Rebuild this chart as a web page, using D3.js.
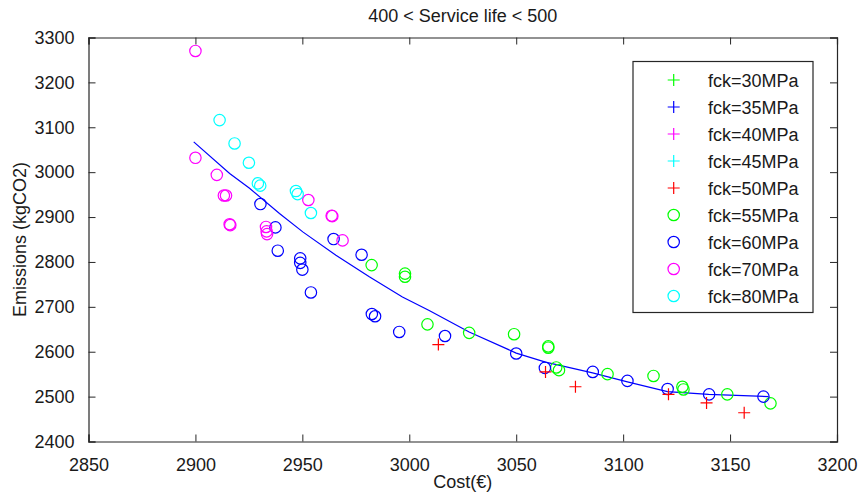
<!DOCTYPE html>
<html>
<head>
<meta charset="utf-8">
<script src="https://cdn.jsdelivr.net/npm/d3@7/dist/d3.min.js"></script>
<style>
  body { margin: 0; background: #fff; }
  text { font-family: Arial, "Liberation Sans", sans-serif; fill: #1a1a1a; }
</style>
</head>
<body>
<div id="chart"></div>
<script>
// Data
const legendLabels = ["fck=30MPa", "fck=35MPa", "fck=40MPa", "fck=45MPa", "fck=50MPa",
                      "fck=55MPa", "fck=60MPa", "fck=70MPa", "fck=80MPa"];
const legendColors = ["#00ff00", "#0000ff", "#ff00ff", "#00ffff", "#ff0000",
                      "#00ff00", "#0000ff", "#ff00ff", "#00ffff"];
const legendShapes = ["plus", "plus", "plus", "plus", "plus",
                      "circle", "circle", "circle", "circle"];

const xTicks = [2850, 2900, 2950, 3000, 3050, 3100, 3150, 3200];
const yTicks = [2400, 2500, 2600, 2700, 2800, 2900, 3000, 3100, 3200, 3300];

// [cost, emissions]
const fck50 = [[3013.6, 2616], [3063.7, 2555], [3077.7, 2522], [3121.2, 2505], [3139, 2486], [3156.6, 2464]];
const fck55 = [[2982.4, 2793], [2998, 2774], [2998, 2767], [3008.5, 2661], [3028, 2642], [3049, 2639],
               [3065, 2612], [3065, 2609], [3068.7, 2565], [3070, 2559], [3092.7, 2550], [3114.2, 2546],
               [3127.7, 2522], [3128.2, 2516], [3148.7, 2505], [3168.9, 2485]];
const fck60 = [[2930.4, 2929], [2937.4, 2877], [2938.5, 2825], [2949, 2808], [2949, 2798], [2950, 2783],
               [2954, 2732], [2964.6, 2851], [2977.7, 2816], [2982.5, 2684], [2984, 2679], [2995.3, 2644],
               [3016.7, 2635], [3050, 2596], [3063.4, 2564], [3085.8, 2555], [3102, 2535], [3120.8, 2517],
               [3140.2, 2505], [3165.6, 2500]];
const fck70 = [[2900, 3270], [2900, 3032], [2910, 2994], [2913.3, 2948], [2914.3, 2948], [2916, 2884],
               [2916.3, 2882], [2933, 2878], [2933.3, 2868], [2933.5, 2862], [2952.8, 2938], [2963.7, 2903],
               [2964, 2902], [2968.8, 2848]];
const fck80 = [[2911.3, 3116], [2918.3, 3064], [2925, 3021], [2929.2, 2975], [2930.3, 2970], [2947, 2958],
               [2947.8, 2951], [2954, 2909]];

// fitted trend line vertices
const fitCost = [2899.2, 2916, 2925.3, 2939.3, 2950.2, 2965.7, 2981.3, 2996.8, 3009.3, 3028, 3050, 3063.7,
                 3085.7, 3102, 3120.7, 3140, 3168];
const fitEmis = [3067.5, 2997, 2964, 2908, 2867, 2815, 2767, 2722, 2692, 2644, 2597, 2577,
                 2553, 2533, 2511, 2505, 2500];

const margin = { top: 37.5, right: 21, bottom: 52.5, left: 88.5 };
const width = 858 - margin.left - margin.right;
const height = 494 - margin.top - margin.bottom;

const svg = d3.select("#chart")
  .append("svg")
  .attr("width", 858)
  .attr("height", 494);

const g = svg.append("g")
  .attr("transform", `translate(${margin.left},${margin.top})`);

const x = d3.scaleLinear().domain([2850, 3200]).range([0, width]);
const y = d3.scaleLinear().domain([2400, 3300]).range([height, 0]);

const tickLen = 7;
const fontSize = 18;

// Axes (ticks point inward, box on)
const xAxis = g.append("g")
  .attr("transform", `translate(0,${height})`)
  .call(d3.axisBottom(x).tickValues(xTicks).tickSize(-tickLen).tickPadding(tickLen + 10).tickFormat(d3.format("d")));
const xAxisTop = g.append("g")
  .call(d3.axisTop(x).tickValues(xTicks).tickSize(-tickLen).tickFormat(""));
const yAxis = g.append("g")
  .call(d3.axisLeft(y).tickValues(yTicks).tickSize(-tickLen).tickPadding(tickLen + 7).tickFormat(d3.format("d")));
const yAxisRight = g.append("g")
  .attr("transform", `translate(${width},0)`)
  .call(d3.axisRight(y).tickValues(yTicks).tickSize(-tickLen).tickFormat(""));

[xAxis, xAxisTop, yAxis, yAxisRight].forEach(a => {
  a.select(".domain").attr("stroke", "#262626").attr("stroke-width", 1.2);
  a.selectAll(".tick line").attr("stroke", "#262626");
  a.selectAll(".tick text").attr("font-size", fontSize).attr("fill", "#1a1a1a")
    .attr("font-family", "Arial, 'Liberation Sans', sans-serif");
});

// Trend line
const fitPts = fitCost.map((c, i) => [c, fitEmis[i]]);
g.append("path")
  .datum(fitPts)
  .attr("fill", "none")
  .attr("stroke", "#0000ff")
  .attr("stroke-width", 1.2)
  .attr("d", d3.line().x(d => x(d[0])).y(d => y(d[1])));

// Markers
function drawCircles(data, color) {
  g.append("g").selectAll("circle")
    .data(data)
    .enter()
    .append("circle")
    .attr("cx", d => x(d[0]))
    .attr("cy", d => y(d[1]))
    .attr("r", 5.7)
    .attr("fill", "none")
    .attr("stroke", color)
    .attr("stroke-width", 1.2);
}

function drawPluses(data, color) {
  g.append("g").selectAll("path")
    .data(data)
    .enter()
    .append("path")
    .attr("transform", d => `translate(${x(d[0])},${y(d[1])})`)
    .attr("d", "M-6,0H6M0,-6V6")
    .attr("stroke", color)
    .attr("stroke-width", 1.2);
}

drawCircles(fck55, "#00ff00");
drawCircles(fck60, "#0000ff");
drawCircles(fck70, "#ff00ff");
drawCircles(fck80, "#00ffff");
drawPluses(fck50, "#ff0000");

// Title and axis labels
svg.append("text")
  .attr("x", margin.left + width / 2)
  .attr("y", 22)
  .attr("text-anchor", "middle")
  .attr("font-size", fontSize)
  .text("400 < Service life < 500");

svg.append("text")
  .attr("x", margin.left + width / 2)
  .attr("y", 488)
  .attr("text-anchor", "middle")
  .attr("font-size", fontSize)
  .text("Cost(€)");

svg.append("text")
  .attr("transform", `translate(26,${margin.top + height / 2}) rotate(-90)`)
  .attr("text-anchor", "middle")
  .attr("font-size", fontSize)
  .text("Emissions (kgCO2)");

// Legend
const legend = svg.append("g").attr("transform", "translate(633,61.5)");
legend.append("rect")
  .attr("width", 180)
  .attr("height", 251)
  .attr("fill", "#fff")
  .attr("stroke", "#262626")
  .attr("stroke-width", 1.2);

const rowY = i => 18.5 + i * 27;
const item = legend.selectAll(".item")
  .data(legendLabels)
  .enter()
  .append("g")
  .attr("class", "item")
  .attr("transform", (d, i) => `translate(0,${rowY(i)})`);

item.each(function (d, i) {
  const sel = d3.select(this);
  if (legendShapes[i] === "plus") {
    sel.append("path")
      .attr("d", "M34.7,0H46.7M40.7,-6V6")
      .attr("stroke", legendColors[i])
      .attr("stroke-width", 1.2);
  } else {
    sel.append("circle")
      .attr("cx", 40.7)
      .attr("r", 5.7)
      .attr("fill", "none")
      .attr("stroke", legendColors[i])
      .attr("stroke-width", 1.2);
  }
  sel.append("text")
    .attr("x", 75)
    .attr("y", 6.5)
    .attr("font-size", fontSize)
    .text(d);
});
</script>
</body>
</html>
